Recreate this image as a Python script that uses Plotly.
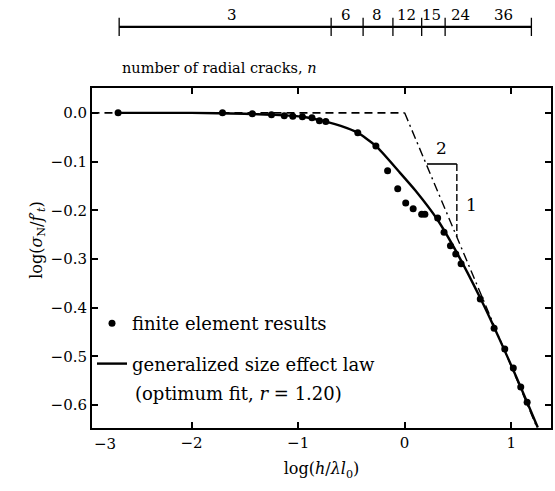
import plotly.graph_objects as go

# finite element results
fe_x = [-2.69, -1.71, -1.43, -1.25, -1.13, -1.05, -0.96, -0.87, -0.80, -0.74,
        -0.44, -0.27, -0.16, -0.065, 0.01, 0.08, 0.16, 0.19, 0.31, 0.37,
        0.43, 0.48, 0.53, 0.71, 0.84, 0.94, 1.02, 1.09, 1.15]
fe_y = [0.0, 0.0, -0.002, -0.004, -0.006, -0.007, -0.008, -0.010, -0.016, -0.018,
        -0.041, -0.068, -0.119, -0.156, -0.185, -0.197, -0.208, -0.208, -0.216, -0.245,
        -0.273, -0.290, -0.310, -0.382, -0.442, -0.485, -0.524, -0.563, -0.594]

# generalized size effect law (optimum fit)
fit_x = [-2.69, -2.0, -1.5, -1.25, -0.96, -0.74, -0.6, -0.44, -0.27, -0.056,
         0.103, 0.31, 0.505, 0.71, 0.84, 1.02, 1.15, 1.25]
fit_y = [0.0, 0.0, -0.002, -0.004, -0.008, -0.018, -0.027, -0.041, -0.068, -0.120,
         -0.160, -0.220, -0.293, -0.380, -0.440, -0.528, -0.594, -0.646]

# asymptotes
plat_x = [-2.94, 0.0]
plat_y = [0.0, 0.0]
slope_x = [0.0, 1.30]
slope_y = [0.0, -0.676]

# slope triangle
tri_h_x = [0.21, 0.49]
tri_h_y = [-0.105, -0.105]
tri_v_x = [0.49, 0.49]
tri_v_y = [-0.105, -0.255]

# number of radial cracks bar
crack_bounds = [-2.68, -0.69, -0.39, -0.11, 0.16, 0.38, 1.19]
crack_labels = ["3", "6", "8", "12", "15", "24", "36"]
crack_label_x = [-1.62, -0.55, -0.26, 0.02, 0.25, 0.52, 0.93]

y_ticks = [0.0, -0.1, -0.2, -0.3, -0.4, -0.5, -0.6]
x_ticks = [-2, -1, 0, 1]

FONT = "DejaVu Serif"
fig = go.Figure()

fig.add_trace(go.Scatter(x=plat_x, y=plat_y, mode="lines", showlegend=False,
                         line=dict(color="black", width=1.6, dash="8px,5px")))
fig.add_trace(go.Scatter(x=slope_x, y=slope_y, mode="lines", showlegend=False,
                         line=dict(color="black", width=1.4, dash="9px,4px,2px,4px")))
fig.add_trace(go.Scatter(x=tri_h_x, y=tri_h_y, mode="lines", showlegend=False,
                         line=dict(color="black", width=1.6)))
fig.add_trace(go.Scatter(x=tri_v_x, y=tri_v_y, mode="lines", showlegend=False,
                         line=dict(color="black", width=1.4, dash="7px,3px")))
fig.add_trace(go.Scatter(x=fit_x, y=fit_y, mode="lines", name="generalized size effect law",
                         legendgroup="b", legendrank=2,
                         line=dict(color="black", width=2.4, shape="spline", smoothing=0.6)))
fig.add_trace(go.Scatter(x=fe_x, y=fe_y, mode="markers", name="finite element results",
                         legendgroup="a", legendrank=1,
                         marker=dict(color="black", size=7)))

# top crack-number bar
fig.add_trace(go.Scatter(x=[crack_bounds[0], crack_bounds[-1]], y=[0, 0], mode="lines",
                         xaxis="x2", yaxis="y2", showlegend=False,
                         line=dict(color="black", width=2.2)))
fig.add_trace(go.Scatter(x=crack_bounds, y=[0] * len(crack_bounds), mode="markers",
                         xaxis="x2", yaxis="y2", showlegend=False,
                         marker=dict(symbol="line-ns", size=13,
                                     line=dict(color="black", width=1.3))))
for lx, lt in zip(crack_label_x, crack_labels):
    fig.add_annotation(x=lx, y=0.55, xref="x2", yref="y2", text=lt, showarrow=False,
                       font=dict(family=FONT, size=15, color="black"))

fig.add_annotation(x=0.061, y=0.861, xref="paper", yref="paper", xanchor="left",
                   yanchor="middle", showarrow=False,
                   text="number of radial cracks, <i>n</i>",
                   font=dict(family=FONT, size=14.5, color="black"))

fig.add_annotation(x=0.346, y=-0.072, xref="x", yref="y", text="2", showarrow=False,
                   font=dict(family=FONT, size=17, color="black"))
fig.add_annotation(x=0.626, y=-0.189, xref="x", yref="y", text="1", showarrow=False,
                   font=dict(family=FONT, size=17, color="black"))

fig.add_annotation(x=0.0, y=-0.012, xref="paper", yref="paper", yanchor="top",
                   text="−3", showarrow=False,
                   font=dict(family=FONT, size=15, color="black"))

fig.add_annotation(x=-0.145, y=0.45, xref="paper", yref="paper", textangle=-90,
                   text="log(<i>σ</i><sub>N</sub>/<i>f</i>′<sub><i>t</i></sub>)",
                   showarrow=False, font=dict(family=FONT, size=16, color="black"))

fig.add_annotation(x=0.089, y=(428 - 393) / 418, xref="paper", yref="paper", xanchor="left",
                   yanchor="middle", showarrow=False,
                   text="(optimum fit, <i>r</i> = 1.20)",
                   font=dict(family=FONT, size=18, color="black"))

axis_common = dict(showline=True, linecolor="black", linewidth=2, mirror="ticks",
                   ticks="inside", ticklen=6, tickwidth=1.5, tickcolor="black",
                   showgrid=False, zeroline=False,
                   tickfont=dict(family=FONT, size=15, color="black"))

fig.update_layout(
    width=555, height=491,
    margin=dict(l=92, r=2, t=10, b=63),
    plot_bgcolor="white", paper_bgcolor="white",
    xaxis=dict(range=[-2.935, 1.374], tickvals=x_ticks, domain=[0, 1], anchor="y",
               title=dict(text="log(<i>h</i>/<i>λl</i><sub>0</sub>)", standoff=12,
                          font=dict(family=FONT, size=16, color="black")),
               **axis_common),
    yaxis=dict(range=[-0.647, 0.051], tickvals=y_ticks, tickformat=".1f",
               domain=[0, 340 / 418], anchor="x", **axis_common),
    xaxis2=dict(range=[-2.935, 1.374], domain=[0, 1], anchor="y2", visible=False),
    yaxis2=dict(range=[-1.19, 0.81], domain=[0.9, 1.0], anchor="x2", visible=False),
    legend=dict(x=0.0, y=(428 - 305) / 418, xanchor="left", yanchor="top",
                bgcolor="rgba(0,0,0,0)", traceorder="grouped", tracegroupgap=14,
                font=dict(family=FONT, size=18, color="black")),
)

fig.write_html("out.html")
